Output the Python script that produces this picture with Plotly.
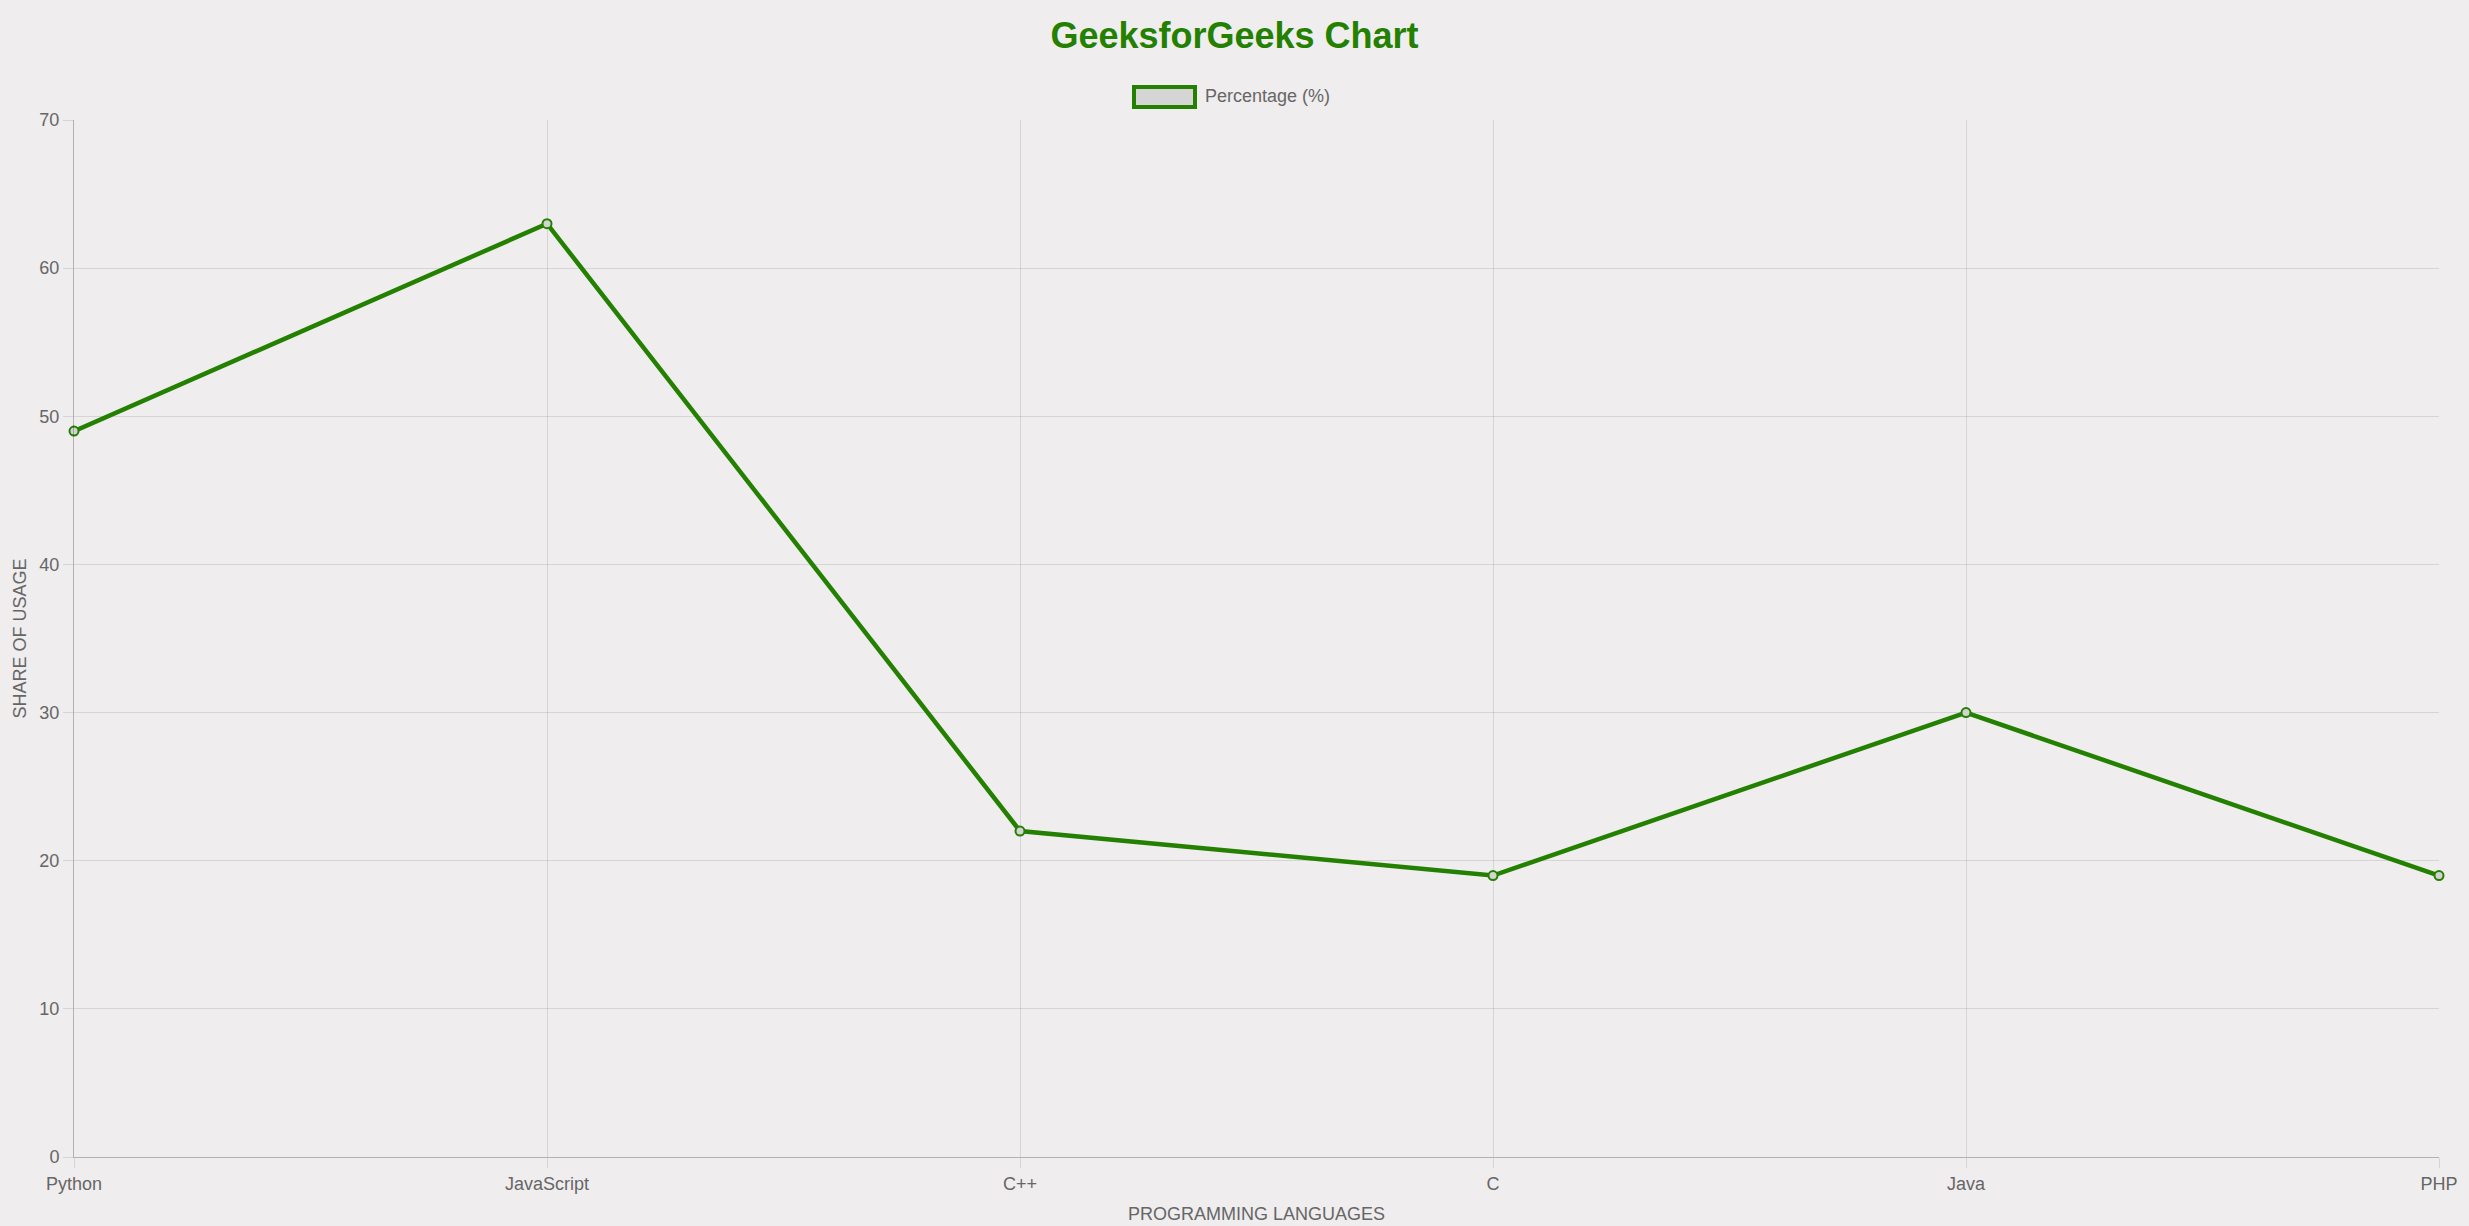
import plotly.graph_objects as go

languages = ["Python", "JavaScript", "C++", "C", "Java", "PHP"]
percentages = [49, 63, 22, 19, 30, 19]
y_ticks = [0, 10, 20, 30, 40, 50, 60, 70]

W, H = 2469, 1226
L, R, T, B = 74, 30, 120, 69
green = "#238000"
bg = "#efedee"
grid = "rgba(0,0,0,0.1)"
font = "Liberation Sans, Arial, sans-serif"

fig = go.Figure()
fig.add_trace(go.Scatter(
    x=languages, y=percentages, mode="lines+markers", name="Percentage (%)",
    line=dict(color=green, width=4.5),
    marker=dict(size=9, color="#d3d3d3", line=dict(color=green, width=2)),
    showlegend=False, hoverinfo="x+y", cliponaxis=False,
))

pw, ph = W - L - R, H - T - B
def px(x):
    return (x - L) / pw
def py(y):
    return (H - B - y) / ph

# Legend (Chart.js style box)
fig.add_shape(type="rect", xref="paper", yref="paper",
              x0=px(1134), x1=px(1195), y0=py(107), y1=py(87),
              fillcolor="#d6d5d5", line=dict(color=green, width=4))
fig.add_annotation(xref="paper", yref="paper", x=px(1203), y=py(96),
                   text="Percentage (%)", showarrow=False, xanchor="left", yanchor="middle",
                   font=dict(family=font, size=18, color="#666666"))

fig.update_layout(
    width=W, height=H,
    margin=dict(l=L, r=R, t=T, b=B, autoexpand=False),
    paper_bgcolor=bg, plot_bgcolor=bg,
    title=dict(text="<b>GeeksforGeeks Chart</b>", x=0.5, xanchor="center",
               y=1 - 35 / H, yanchor="middle",
               font=dict(family=font, size=36, color=green)),
    xaxis=dict(
        type="category", categoryorder="array", categoryarray=languages,
        range=[0, len(languages) - 1], automargin=False,
        showgrid=True, gridcolor=grid, gridwidth=1,
        ticks="outside", ticklen=10, tickcolor=grid,
        showline=True, linecolor="rgba(0,0,0,0.25)", linewidth=1,
        tickfont=dict(family=font, size=18, color="#666666"),
        title=dict(text="PROGRAMMING LANGUAGES", standoff=14,
                   font=dict(family=font, size=18, color="#666666")),
        zeroline=False, fixedrange=True,
    ),
    yaxis=dict(
        range=[0, 70], tickvals=y_ticks, automargin=False,
        showgrid=True, gridcolor=grid, gridwidth=1,
        ticks="outside", ticklen=10, tickcolor=grid,
        showline=True, linecolor="rgba(0,0,0,0.25)", linewidth=1,
        tickfont=dict(family=font, size=18, color="#666666"),
        title=dict(text="SHARE OF USAGE", standoff=8,
                   font=dict(family=font, size=18, color="#666666")),
        zeroline=False, fixedrange=True,
    ),
)

fig.write_html("out.html", config={"displayModeBar": False},
               post_script="document.body.style.margin='0';document.body.style.background='%s';" % bg)
